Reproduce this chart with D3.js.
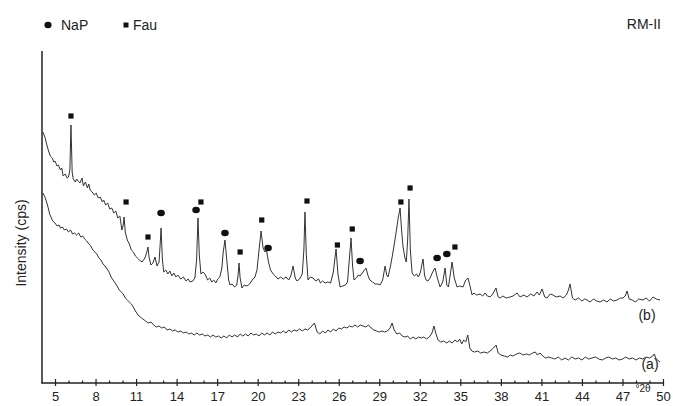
<!DOCTYPE html>
<html>
<head>
<meta charset="utf-8">
<script src="https://cdn.jsdelivr.net/npm/d3@7"></script>
<style>
  body { margin: 0; background: #fff; }
  text { font-family: "Liberation Sans", Arial, sans-serif; fill: #222; }
</style>
</head>
<body>
<div class="chart"></div>
<script>
// XRD pattern, [2theta, intensity]
var patternB = [
  [4.1,251],[4.25,246],[4.4,238],[4.5,233],[4.65,227],[4.8,225],[4.9,221],[5.0,222],[5.15,217],[5.25,218],
  [5.4,213],[5.5,215],[5.6,207],[5.75,209],[5.9,205],[6.0,206],[6.1,213],[6.18,258],[6.27,211],[6.35,204],
  [6.5,201],[6.6,204],[6.7,202],[6.85,200],[7.0,205],[7.1,197],[7.25,201],[7.4,195],[7.5,199],[7.6,193],
  [7.75,191],[7.9,188],[8.05,190],[8.2,185],[8.35,186],[8.5,181],[8.6,183],[8.75,178],[8.9,180],[9.05,174],
  [9.2,175],[9.35,170],[9.5,172],[9.65,165],[9.8,167],[9.95,153],[10.05,158],[10.11,166],[10.2,151],[10.35,143],
  [10.5,139],[10.65,133],[10.8,131],[10.95,127],[11.1,125],[11.25,123],[11.45,121],[11.65,125],[11.8,131],[11.88,136],
  [11.97,125],[12.1,118],[12.25,120],[12.4,126],[12.55,117],[12.7,121],[12.78,138],[12.85,155],[12.95,123],[13.05,111],
  [13.2,113],[13.35,109],[13.5,112],[13.65,107],[13.8,110],[13.95,106],[14.1,108],[14.3,104],[14.5,106],[14.7,102],
  [14.85,104],[15.0,101],[15.2,102],[15.35,105],[15.48,123],[15.58,165],[15.68,128],[15.8,109],[15.95,111],[16.1,109],
  [16.3,103],[16.45,105],[16.6,101],[16.75,103],[16.9,100],[17.05,104],[17.2,106],[17.35,115],[17.45,131],[17.58,143],
  [17.7,125],[17.85,103],[17.95,98],[18.1,99],[18.3,96],[18.45,98],[18.55,108],[18.62,120],[18.7,105],[18.84,95],
  [19.0,98],[19.2,97],[19.4,99],[19.6,103],[19.8,106],[19.95,113],[20.1,133],[20.25,152],[20.4,135],[20.54,131],
  [20.65,133],[20.8,121],[20.95,113],[21.15,109],[21.3,107],[21.5,104],[21.7,106],[21.9,104],[22.1,106],[22.3,103],
  [22.45,107],[22.62,117],[22.78,105],[22.91,102],[23.1,104],[23.3,109],[23.42,133],[23.5,171],[23.6,128],[23.73,103],
  [23.9,106],[24.1,105],[24.3,102],[24.5,104],[24.65,100],[24.8,102],[25.0,100],[25.2,101],[25.4,100],[25.6,111],
  [25.8,134],[25.95,108],[26.1,96],[26.3,97],[26.5,98],[26.65,101],[26.78,123],[26.91,145],[27.02,118],[27.13,103],
  [27.3,105],[27.45,108],[27.58,107],[27.75,110],[27.9,113],[28.02,115],[28.15,108],[28.3,103],[28.5,101],[28.7,99],
  [28.9,99],[29.06,98],[29.25,103],[29.43,117],[29.55,108],[29.65,106],[29.8,115],[29.94,125],[30.1,138],[30.25,151],
  [30.4,165],[30.54,175],[30.65,153],[30.76,136],[30.9,125],[31.0,121],[31.1,143],[31.2,184],[31.3,133],[31.43,110],
  [31.6,107],[31.75,109],[31.9,106],[32.05,111],[32.24,124],[32.35,108],[32.46,103],[32.6,102],[32.76,105],[32.95,111],
  [33.13,115],[33.3,105],[33.5,96],[33.7,101],[33.87,115],[34.0,98],[34.12,96],[34.25,108],[34.39,121],[34.55,105],
  [34.76,96],[34.95,97],[35.2,96],[35.4,103],[35.57,105],[35.75,95],[35.87,88],[36.0,90],[36.2,88],[36.46,89],
  [36.65,87],[36.83,90],[37.0,87],[37.2,86],[37.4,89],[37.64,95],[37.8,86],[37.94,85],[38.15,87],[38.4,85],
  [38.68,86],[38.9,87],[39.2,90],[39.42,86],[39.7,88],[39.94,86],[40.2,89],[40.45,87],[40.68,91],[40.85,88],
  [41.05,94],[41.25,86],[41.42,85],[41.65,89],[41.86,88],[42.1,86],[42.38,87],[42.6,85],[42.85,88],[43.0,93],
  [43.12,99],[43.3,85],[43.5,83],[43.75,85],[44.0,82],[44.2,84],[44.38,83],[44.6,81],[44.85,84],[45.1,82],
  [45.34,81],[45.6,83],[45.85,81],[46.1,84],[46.35,82],[46.6,83],[46.85,85],[47.04,85],[47.2,87],[47.34,92],
  [47.5,84],[47.71,83],[47.95,81],[48.2,84],[48.52,83],[48.75,85],[49.0,82],[49.26,86],[49.5,84],[49.78,83]
];

var patternA = [
  [4.1,190],[4.25,186],[4.4,180],[4.5,175],[4.6,169],[4.7,166],[4.8,163],[4.9,161],[5.0,160],[5.15,157],
  [5.3,158],[5.4,155],[5.55,156],[5.7,153],[5.85,154],[6.0,151],[6.15,153],[6.3,149],[6.45,150],[6.6,148],
  [6.75,150],[6.9,146],[7.05,147],[7.2,144],[7.35,142],[7.5,139],[7.65,137],[7.8,133],[7.95,131],[8.1,129],
  [8.25,125],[8.4,123],[8.55,119],[8.7,117],[8.85,114],[9.0,111],[9.15,106],[9.3,103],[9.45,100],[9.6,97],
  [9.75,93],[9.9,91],[10.05,89],[10.2,85],[10.35,83],[10.5,81],[10.65,79],[10.8,76],[10.95,72],[11.1,69],
  [11.3,66],[11.5,64],[11.7,62],[11.9,60],[12.1,61],[12.3,58],[12.5,56],[12.7,57],[12.9,55],[13.1,56],
  [13.3,53],[13.5,54],[13.7,52],[13.9,53],[14.1,51],[14.3,52],[14.5,50],[14.7,51],[14.9,49],[15.1,50],
  [15.3,48],[15.5,50],[15.7,48],[15.9,49],[16.1,47],[16.3,48],[16.5,46],[16.7,48],[16.9,46],[17.1,47],
  [17.3,45],[17.5,47],[17.7,45],[17.9,48],[18.1,46],[18.3,48],[18.5,46],[18.7,49],[18.9,47],[19.1,49],
  [19.3,47],[19.5,50],[19.7,48],[19.9,49],[20.1,47],[20.3,50],[20.5,48],[20.7,50],[20.9,48],[21.1,51],
  [21.3,49],[21.5,51],[21.7,50],[21.9,52],[22.1,50],[22.3,53],[22.5,51],[22.7,53],[22.9,52],[23.1,54],
  [23.3,52],[23.5,54],[23.7,53],[23.95,56],[24.2,60],[24.4,51],[24.6,49],[24.8,52],[25.0,50],[25.2,53],
  [25.4,51],[25.6,54],[25.8,52],[26.0,55],[26.2,54],[26.4,56],[26.6,55],[26.8,57],[27.0,56],[27.2,58],
  [27.4,56],[27.6,58],[27.8,57],[28.0,56],[28.2,58],[28.4,55],[28.6,53],[28.8,52],[29.0,51],[29.2,52],
  [29.4,51],[29.6,52],[29.8,55],[29.95,60],[30.1,53],[30.3,49],[30.5,50],[30.7,47],[30.9,46],[31.1,47],
  [31.3,44],[31.5,46],[31.7,44],[31.9,46],[32.1,45],[32.3,46],[32.5,44],[32.7,46],[32.9,50],[33.05,57],
  [33.2,49],[33.35,43],[33.55,41],[33.75,42],[34.0,40],[34.2,42],[34.4,40],[34.6,43],[34.8,41],[34.95,44],
  [35.1,39],[35.25,43],[35.4,41],[35.55,48],[35.7,35],[35.85,32],[36.05,31],[36.3,32],[36.5,30],[36.75,31],
  [37.0,30],[37.2,32],[37.45,35],[37.65,38],[37.8,30],[38.0,28],[38.25,27],[38.5,26],[38.7,28],[38.9,27],
  [39.15,29],[39.4,30],[39.65,28],[39.9,29],[40.1,28],[40.35,30],[40.55,31],[40.7,28],[40.9,30],[41.1,27],
  [41.3,25],[41.5,26],[41.75,25],[42.0,24],[42.25,26],[42.5,23],[42.75,25],[43.0,23],[43.25,26],[43.5,24],
  [43.75,25],[44.0,23],[44.25,26],[44.5,24],[44.75,25],[45.0,26],[45.25,24],[45.5,23],[45.75,25],[46.0,26],
  [46.25,24],[46.5,25],[46.75,23],[47.0,24],[47.25,26],[47.5,24],[47.75,25],[48.0,23],[48.25,25],[48.5,24],
  [48.75,26],[49.0,25],[49.25,27],[49.35,29],[49.5,24],[49.78,21]
];

// phase markers [2theta, intensity level]
var fauPeaks = [[6.18,267],[10.26,181],[11.88,146],[15.8,181],[18.7,131],[20.3,163],
                [23.65,182],[25.9,138],[27.0,154],[30.6,181],[31.28,195],[34.6,136]];
var napPeaks = [[12.85,170],[15.44,173],[17.58,150],[20.77,135],[27.58,122],[33.28,125],[34.0,129]];

var majorTicks = [5,8,11,14,17,20,23,26,29,32,35,38,41,44,47,50];
var minorTicks = d3.range(5, 50, 1);

var svgWidth = 673, svgHeight = 406;
var xScale = d3.scaleLinear().domain([4, 50]).range([41.5, 663]);
var yScale = d3.scaleLinear().domain([0, 333]).range([383, 50]);

var svg = d3.select(".chart").append("svg")
    .attr("width", svgWidth)
    .attr("height", svgHeight);

// curves
var line = d3.line()
    .x(d => xScale(d[0]))
    .y(d => yScale(d[1]));

[patternB, patternA].forEach(function (p) {
  svg.append("path")
      .datum(p)
      .attr("d", line)
      .attr("fill", "none")
      .attr("stroke", "#333")
      .attr("stroke-width", 1)
      .attr("stroke-linejoin", "round");
});

// axes
var bottomAxis = d3.axisBottom(xScale).tickValues(majorTicks).tickSize(3).tickPadding(6);
var xg = svg.append("g").attr("transform", "translate(0,383)").call(bottomAxis);
xg.select(".domain").remove();
xg.selectAll("text").attr("font-size", "13px").attr("fill", "#222")
    .attr("font-family", "Liberation Sans, Arial, sans-serif");
xg.selectAll("line").attr("stroke", "#222").attr("stroke-width", 1.2);

svg.append("g").attr("transform", "translate(0,383)")
    .call(d3.axisBottom(xScale).tickValues(majorTicks).tickSize(-4).tickFormat(""))
    .call(g => g.select(".domain").remove())
    .selectAll("line").attr("stroke", "#222").attr("stroke-width", 1.2);

svg.append("g").attr("transform", "translate(0,383)")
    .call(d3.axisBottom(xScale).tickValues(minorTicks.filter(v => majorTicks.indexOf(v) < 0)).tickSize(-2.5).tickFormat(""))
    .call(g => g.select(".domain").remove())
    .selectAll("line").attr("stroke", "#222").attr("stroke-width", 1.2);

svg.append("line")
    .attr("x1", 41.5).attr("x2", 663).attr("y1", 383).attr("y2", 383)
    .attr("stroke", "#222").attr("stroke-width", 1.5);
svg.append("line")
    .attr("x1", 42).attr("x2", 42).attr("y1", 51).attr("y2", 383.5)
    .attr("stroke", "#222").attr("stroke-width", 1.5);

// markers
svg.selectAll("rect.fau")
    .data(fauPeaks)
    .enter()
    .append("rect")
    .attr("class", "fau")
    .attr("x", d => xScale(d[0]) - 2.6)
    .attr("y", d => yScale(d[1]) - 2.6)
    .attr("width", 5.2)
    .attr("height", 5.2)
    .attr("fill", "#111");

svg.selectAll("ellipse.nap")
    .data(napPeaks)
    .enter()
    .append("ellipse")
    .attr("class", "nap")
    .attr("cx", d => xScale(d[0]))
    .attr("cy", d => yScale(d[1]))
    .attr("rx", 3.8)
    .attr("ry", 3.2)
    .attr("fill", "#111");

// legend
svg.append("ellipse").attr("cx", 48).attr("cy", 25).attr("rx", 3.6).attr("ry", 3.3).attr("fill", "#111");
svg.append("text").attr("x", 61).attr("y", 30).attr("font-size", "14px").text("NaP");
svg.append("rect").attr("x", 123.5).attr("y", 22.5).attr("width", 5).attr("height", 5).attr("fill", "#111");
svg.append("text").attr("x", 133).attr("y", 30).attr("font-size", "14px").text("Fau");

svg.append("text").attr("x", 661).attr("y", 29).attr("text-anchor", "end")
    .attr("font-size", "14px").text("RM-II");

svg.append("text").attr("x", 647).attr("y", 320).attr("text-anchor", "middle")
    .attr("font-size", "14px").text("(b)");
svg.append("text").attr("x", 650).attr("y", 369).attr("text-anchor", "middle")
    .attr("font-size", "14px").text("(a)");

svg.append("text").attr("x", 643).attr("y", 392).attr("text-anchor", "middle")
    .attr("font-size", "10px").text("°2θ");

svg.append("text")
    .attr("transform", "translate(26,243) rotate(-90)")
    .attr("text-anchor", "middle")
    .attr("font-size", "14px")
    .text("Intensity (cps)");
</script>
</body>
</html>
